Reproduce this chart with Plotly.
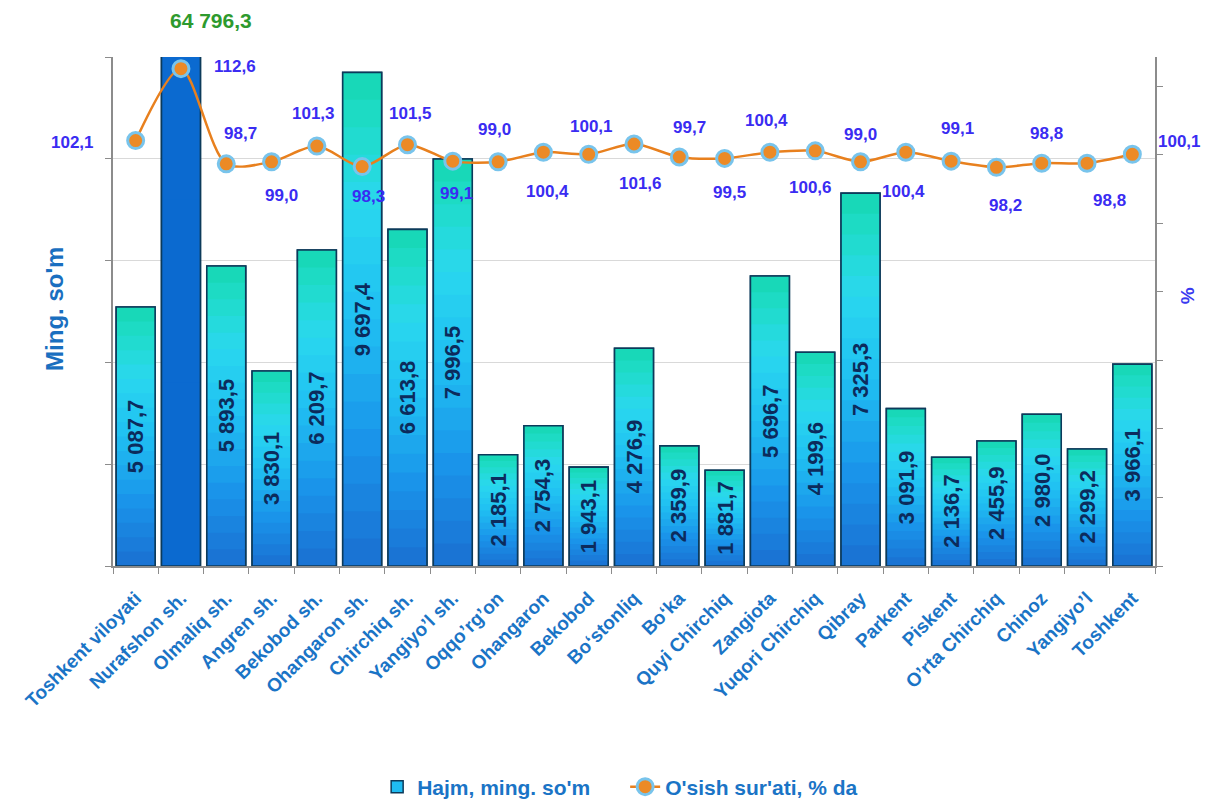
import plotly.graph_objects as go

categories = ["Toshkent viloyati", "Nurafshon sh.", "Olmaliq sh.", "Angren sh.", "Bekobod sh.",
              "Ohangaron sh.", "Chirchiq sh.", "Yangiyo’l sh.", "Oqqo’rg’on", "Ohangaron",
              "Bekobod", "Bo‘stonliq", "Bo‘ka", "Quyi Chirchiq", "Zangiota", "Yuqori Chirchiq",
              "Qibray", "Parkent", "Piskent", "O’rta Chirchiq", "Chinoz", "Yangiyo’l", "Toshkent"]
volume = [5087.7, 64796.3, 5893.5, 3830.1, 6209.7, 9697.4, 6613.8, 7996.5, 2185.1, 2754.3,
          1943.1, 4276.9, 2359.9, 1881.7, 5696.7, 4199.6, 7325.3, 3091.9, 2136.7, 2455.9,
          2980.0, 2299.2, 3966.1]
growth = [102.1, 112.6, 98.7, 99.0, 101.3, 98.3, 101.5, 99.1, 99.0, 100.4, 100.1, 101.6,
          99.7, 99.5, 100.4, 100.6, 99.0, 100.4, 99.1, 98.2, 98.8, 98.8, 100.1]

bar_name = "Hajm, ming. so'm"
line_name = "O'sish sur'ati, % da"
outlier_index = 1  # bar exceeding the axis range (value shown above the plot)

# label offsets (pixels, dx right, dy down) for the growth labels
label_offsets = [(-63, 2), (54, -2), (14, -30), (10, 34), (-3, -33), (6, 30), (3, -31),
                 (4, 32), (-4, -32), (4, 39), (3, -28), (6, 39), (10, -30), (5, 34),
                 (-3, -32), (-5, 37), (0, -27), (-2, 39), (6, -33), (9, 38), (5, -30),
                 (22, 37), (47, -13)]

FONT = "Arial, Liberation Sans, sans-serif"


def fmt(v):
    return f"{v:,.1f}".replace(",", " ").replace(".", ",")


def hex2rgb(h):
    h = h.lstrip("#")
    return tuple(int(h[i:i + 2], 16) for i in (0, 2, 4))


stops = [(0.0, "#1a74d4"), (0.22, "#1a94ea"), (0.48, "#20c0f2"), (0.70, "#2ad8ee"),
         (0.88, "#1edcc6"), (1.0, "#12d4ac")]


def color_at(f):
    for (f0, c0), (f1, c1) in zip(stops[:-1], stops[1:]):
        if f0 <= f <= f1:
            t = (f - f0) / (f1 - f0) if f1 > f0 else 0
            a, b = hex2rgb(c0), hex2rgb(c1)
            return "rgb(%d,%d,%d)" % tuple(round(a[i] + (b[i] - a[i]) * t) for i in range(3))
    return stops[-1][1]


outlier_color = "#0b6ad0"
edge_color = "#0c3a5a"
n_bands = 18

fig = go.Figure()

# base full bar (legend entry)
fig.add_trace(go.Bar(
    x=categories, y=volume, name=bar_name,
    marker=dict(color=[outlier_color if i == outlier_index else color_at(0.45) for i in range(len(volume))],
                line=dict(color=edge_color, width=1.5)),
    hoverinfo="skip", showlegend=True,
))
# gradient bands
for k in range(n_bands):
    f = k / n_bands
    col = color_at(f)
    fig.add_trace(go.Bar(
        x=categories,
        base=[v * f for v in volume],
        y=[v * (1 - f) for v in volume],
        marker=dict(color=[outlier_color if i == outlier_index else col for i in range(len(volume))],
                    line=dict(width=0)),
        hoverinfo="skip", showlegend=False,
    ))
# outline
fig.add_trace(go.Bar(
    x=categories, y=volume,
    marker=dict(color="rgba(0,0,0,0)", line=dict(color=edge_color, width=1.6)),
    hoverinfo="skip", showlegend=False,
))

fig.add_trace(go.Scatter(
    x=categories, y=growth, yaxis="y2", name=line_name,
    mode="lines+markers",
    line=dict(color="#e8801e", width=2.5, shape="spline", smoothing=0.8),
    marker=dict(color="#ec8a26", size=16, line=dict(color="#78c4ec", width=3)),
    hoverinfo="skip",
))

annotations = []
for i, (c, v) in enumerate(zip(categories, volume)):
    if i == outlier_index:
        annotations.append(dict(x=c, y=1, xref="x", yref="paper", text="<b>%s</b>" % fmt(v),
                                showarrow=False, xanchor="center", yanchor="middle",
                                xshift=30, yshift=37,
                                font=dict(family=FONT, size=21, color="#2e9a2e")))
    else:
        annotations.append(dict(x=c, y=v / 2, xref="x", yref="y", text="<b>%s</b>" % fmt(v),
                                showarrow=False, textangle=-90,
                                font=dict(family=FONT, size=22, color="#0c2b5c")))

for c, g, (dx, dy) in zip(categories, growth, label_offsets):
    annotations.append(dict(x=c, y=g, xref="x", yref="y2", text="<b>%s</b>" % fmt(g),
                            showarrow=False, xshift=dx, yshift=-dy,
                            font=dict(family=FONT, size=17, color="#3a2cf2")))

annotations.append(dict(x=-0.0557, y=0.505, xref="paper", yref="paper", text="<b>Ming. so'm</b>",
                        showarrow=False, textangle=-90, xanchor="center", yanchor="middle",
                        font=dict(family=FONT, size=24, color="#1a6fc0")))
annotations.append(dict(x=1.0307, y=0.532, xref="paper", yref="paper", text="<b>%</b>",
                        showarrow=False, textangle=-90, xanchor="center", yanchor="middle",
                        font=dict(family=FONT, size=19, color="#3a3af0")))

W, H = 1201, 792
fig.update_layout(
    width=W, height=H,
    margin=dict(l=105, r=W - 105 - 1042, t=49, b=H - 49 - 509, autoexpand=False),
    paper_bgcolor="white", plot_bgcolor="white",
    barmode="overlay", bargap=0.14,
    showlegend=True,
    legend=dict(orientation="h", x=0.2535, xanchor="left", y=1 - 779 / H, yref="container",
                yanchor="middle",
                font=dict(family=FONT, size=21, color="#1a74c6", weight="bold"),
                entrywidth=203, entrywidthmode="pixels", tracegroupgap=0),
    xaxis=dict(type="category", range=[-0.5, len(categories) - 0.5],
               tickangle=-45, tickson="boundaries", ticks="outside", ticklen=6,
               tickcolor="#8c8c8c", showline=True, linecolor="#8c8c8c", linewidth=1.5,
               showgrid=False, ticklabelstandoff=12,
               tickfont=dict(family=FONT, size=19, color="#1a74c6", weight="bold"),
               automargin=False),
    yaxis=dict(range=[0, 10000], dtick=2000, showticklabels=False, ticks="outside", ticklen=6,
               tickcolor="#8c8c8c", showline=True, linecolor="#8c8c8c", linewidth=1.5,
               showgrid=True, gridcolor="#d9d9d9", gridwidth=1, zeroline=False, automargin=False),
    yaxis2=dict(range=[40, 114.3], tick0=40, dtick=10, overlaying="y", side="right",
                showticklabels=False, ticks="outside", ticklen=6, tickcolor="#8c8c8c",
                showline=True, linecolor="#8c8c8c", linewidth=1.5, showgrid=False,
                zeroline=False, automargin=False),
    annotations=annotations,
    font=dict(family=FONT),
)

fig.write_html("out.html")
